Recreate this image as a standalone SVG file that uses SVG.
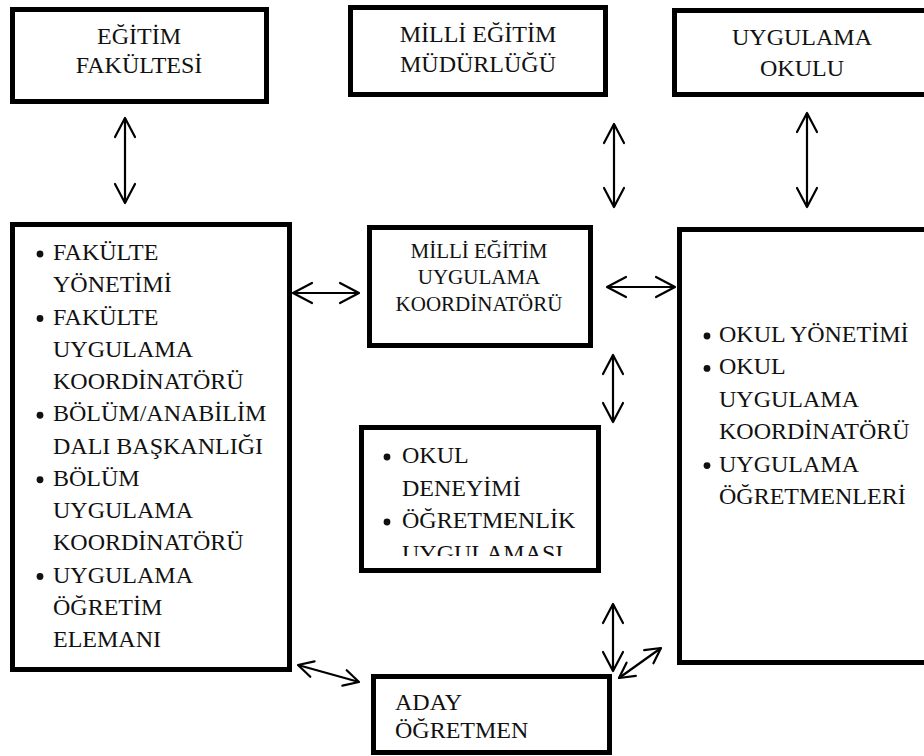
<svg xmlns="http://www.w3.org/2000/svg" width="924" height="756" viewBox="0 0 924 756">
<style>
.box{fill:#fff;stroke:#000;stroke-width:5}
.t{font-family:"Liberation Serif","Times New Roman",serif;font-size:24px;fill:#111}
.ts{font-family:"Liberation Serif","Times New Roman",serif;font-size:21px;fill:#111}
.c{text-anchor:middle}
.con line{stroke:#000;stroke-width:2.2;fill:none}
.b{fill:#111}
</style>
<defs>
<marker id="ah" viewBox="-22 -12 24 24" markerWidth="24" markerHeight="24" refX="0" refY="0" markerUnits="userSpaceOnUse" orient="auto-start-reverse">
<path d="M-19,-10 L0,0 L-19,10" fill="none" stroke="#000" stroke-width="2.2" stroke-linejoin="round" stroke-linecap="round"/>
</marker>
<marker id="ahs" viewBox="-18 -10 20 20" markerWidth="20" markerHeight="20" refX="0" refY="0" markerUnits="userSpaceOnUse" orient="auto-start-reverse">
<path d="M-15,-8 L0,0 L-15,8" fill="none" stroke="#000" stroke-width="2.2" stroke-linejoin="round" stroke-linecap="round"/>
</marker>
<clipPath id="clipDen"><rect x="362" y="428" width="236" height="128"/></clipPath>
</defs>

<g id="egitim-fakultesi">
<rect class="box" x="12.5" y="9.5" width="254" height="92"/>
<text class="t c" x="139" y="44">EĞİTİM</text>
<text class="t c" x="139" y="73">FAKÜLTESİ</text>
</g>

<g id="milli-egitim-mudurlugu">
<rect class="box" x="350.5" y="7.5" width="255" height="87"/>
<text class="t c" x="478" y="42">MİLLİ EĞİTİM</text>
<text class="t c" x="478" y="72">MÜDÜRLÜĞÜ</text>
</g>

<g id="uygulama-okulu">
<rect class="box" x="674.5" y="10.5" width="262" height="84"/>
<text class="t c" x="802" y="45">UYGULAMA</text>
<text class="t c" x="802" y="76">OKULU</text>
</g>

<g id="fakulte-list">
<rect class="box" x="12.5" y="224.5" width="277" height="445"/>
<circle class="b" cx="40" cy="254" r="3.4"/>
<circle class="b" cx="40" cy="318.5" r="3.4"/>
<circle class="b" cx="40" cy="415.25" r="3.4"/>
<circle class="b" cx="40" cy="479.75" r="3.4"/>
<circle class="b" cx="40" cy="576.5" r="3.4"/>
<text class="t" x="53" y="260">FAKÜLTE</text>
<text class="t" x="53" y="292.25">YÖNETİMİ</text>
<text class="t" x="53" y="324.5">FAKÜLTE</text>
<text class="t" x="53" y="356.75">UYGULAMA</text>
<text class="t" x="53" y="389">KOORDİNATÖRÜ</text>
<text class="t" x="53" y="421.25">BÖLÜM/ANABİLİM</text>
<text class="t" x="53" y="453.5">DALI BAŞKANLIĞI</text>
<text class="t" x="53" y="485.75">BÖLÜM</text>
<text class="t" x="53" y="518">UYGULAMA</text>
<text class="t" x="53" y="550.25">KOORDİNATÖRÜ</text>
<text class="t" x="53" y="582.5">UYGULAMA</text>
<text class="t" x="53" y="614.75">ÖĞRETİM</text>
<text class="t" x="53" y="647">ELEMANI</text>
</g>

<g id="milli-egitim-koordinator">
<rect class="box" x="369.5" y="227.5" width="221" height="118"/>
<text class="ts c" x="479" y="258">MİLLİ EĞİTİM</text>
<text class="ts c" x="479" y="284">UYGULAMA</text>
<text class="ts c" x="479" y="310.5">KOORDİNATÖRÜ</text>
</g>

<g id="okul-deneyimi">
<rect class="box" x="361.5" y="427.5" width="237" height="143"/>
<g clip-path="url(#clipDen)">
<circle class="b" cx="387" cy="457" r="3.4"/>
<circle class="b" cx="387" cy="522" r="3.4"/>
<text class="t" x="402" y="463">OKUL</text>
<text class="t" x="402" y="495.5">DENEYİMİ</text>
<text class="t" x="402" y="528">ÖĞRETMENLİK</text>
<text class="t" x="402" y="560.5">UYGULAMASI</text>
</g>
</g>

<g id="okul-list">
<rect class="box" x="679.5" y="229.5" width="260" height="433"/>
<circle class="b" cx="707" cy="336" r="3.4"/>
<circle class="b" cx="707" cy="368.4" r="3.4"/>
<circle class="b" cx="707" cy="465.6" r="3.4"/>
<text class="t" x="719" y="342">OKUL YÖNETİMİ</text>
<text class="t" x="719" y="374.4">OKUL</text>
<text class="t" x="719" y="406.8">UYGULAMA</text>
<text class="t" x="719" y="439.2">KOORDİNATÖRÜ</text>
<text class="t" x="719" y="471.6">UYGULAMA</text>
<text class="t" x="719" y="504">ÖĞRETMENLERİ</text>
</g>

<g id="aday-ogretmen">
<rect class="box" x="373.5" y="676.5" width="236" height="76"/>
<text class="t" x="395" y="710">ADAY</text>
<text class="t" x="395" y="738">ÖĞRETMEN</text>
</g>

<g id="connectors" class="con">
<line x1="125" y1="118" x2="125" y2="203" marker-start="url(#ah)" marker-end="url(#ah)"/>
<line x1="614" y1="124" x2="614" y2="207" marker-start="url(#ah)" marker-end="url(#ah)"/>
<line x1="807" y1="113" x2="807" y2="207" marker-start="url(#ah)" marker-end="url(#ah)"/>
<line x1="293" y1="293" x2="359" y2="293" marker-start="url(#ah)" marker-end="url(#ah)"/>
<line x1="607" y1="287" x2="675" y2="287" marker-start="url(#ah)" marker-end="url(#ah)"/>
<line x1="613" y1="355" x2="613" y2="422" marker-start="url(#ah)" marker-end="url(#ah)"/>
<line x1="613" y1="604" x2="613" y2="671" marker-start="url(#ah)" marker-end="url(#ah)"/>
<line x1="619" y1="678" x2="661" y2="648" marker-start="url(#ahs)" marker-end="url(#ahs)"/>
<line x1="298" y1="665" x2="359" y2="682" marker-start="url(#ahs)" marker-end="url(#ahs)"/>
</g>
</svg>
